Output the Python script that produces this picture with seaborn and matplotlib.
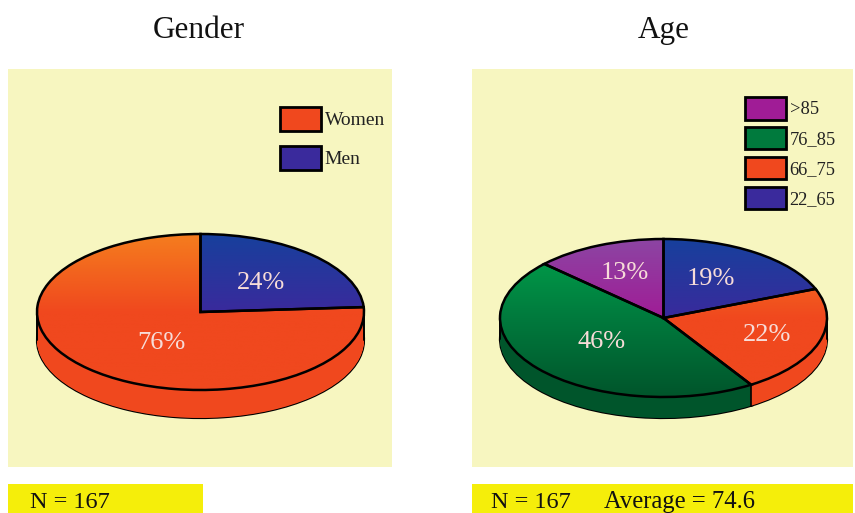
import numpy as np
import matplotlib
matplotlib.use('Agg')
import matplotlib.pyplot as plt
from matplotlib.patches import Patch, Rectangle
import seaborn as sns

# Pie data, in clockwise order from 12 o'clock
gender_values = [24, 76]
gender_names = ['Men', 'Women']
age_values = [19, 22, 46, 13]
age_names = ['22_65', '66_75', '76_85', '>85']

BLUE = ['#17409c', '#3a2a9c', '#3a2a9c']
ORANGE = ['#f57d1e', '#f0481e', '#f0481e']
GREEN = ['#00a34c', '#007a3d', '#00552b']
PURPLE = ['#8c45a3', '#a01c96', '#a01c96']
PANEL = '#f7f6c0'
BANNER = '#f5ee0a'

W, H = 855, 513
sns.set_theme(style='white')
plt.rcParams['font.family'] = ['Liberation Serif', 'DejaVu Serif']

fig = plt.figure(figsize=(W / 100, H / 100), dpi=100)
fig.patch.set_facecolor('white')


def px_text(x, y, s, **kw):
    # position in reference pixels
    return fig.text(x / W, 1 - y / H, s, **kw)


def draw_pie(box, cx, cy, rx, ry, depth, values, gradients, label_xy):
    left, top, right, bottom = box
    ax = fig.add_axes([left / W, 1 - bottom / H, (right - left) / W, (bottom - top) / H])
    d = depth / ry
    rim_colors = [g[-1] for g in gradients]

    # extruded side: bottom outline first, then a stack of slices
    ax.pie(values, colors=rim_colors, startangle=90, counterclock=False, center=(0, -d),
           wedgeprops=dict(edgecolor='black', linewidth=1.6))
    for off in np.linspace(d, 0, depth * 2):
        ax.pie(values, colors=rim_colors, startangle=90, counterclock=False, center=(0, -off),
               wedgeprops=dict(linewidth=0))

    # outer edge lines of the side, incl. seams on the front half
    ax.plot([-1, -1], [0, -d], color='black', lw=1.4, zorder=4)
    ax.plot([1, 1], [0, -d], color='black', lw=1.4, zorder=4)
    bounds = 90 - np.cumsum(values) * 3.6
    for b in bounds:
        if np.sin(np.radians(b)) < 0:
            x, y = np.cos(np.radians(b)), np.sin(np.radians(b))
            ax.plot([x, x], [y, y - d], color='black', lw=1.2, zorder=4)

    # top face with vertical colour gradient
    wedges, _ = ax.pie(values, colors=rim_colors, startangle=90, counterclock=False,
                       wedgeprops=dict(edgecolor='black', linewidth=1.8))
    ramp = np.linspace(0, 1, 256).reshape(-1, 1)
    for wedge, grad in zip(wedges, gradients):
        cmap = sns.blend_palette(grad, as_cmap=True)
        im = ax.imshow(ramp, cmap=cmap, extent=(-1, 1, -1, 1), origin='upper', aspect='auto', zorder=3)
        im.set_clip_path(wedge)
        wedge.set_facecolor('none')
        wedge.set_zorder(5)

    ax.set_aspect('auto')
    ax.set_xlim((left - cx) / rx, (right - cx) / rx)
    ax.set_ylim((cy - bottom) / ry, (cy - top) / ry)
    ax.set_frame_on(True)
    ax.set_facecolor(PANEL)
    for s in ax.spines.values():
        s.set_visible(False)
    ax.set_xticks([])
    ax.set_yticks([])

    for v, (x, y) in zip(values, label_xy):
        px_text(x, y, f'{v}%', fontsize=19, color='#f7dcd8', ha='center', va='center', zorder=10)
    return ax


ax1 = draw_pie((8, 69, 392, 467), 200.5, 312, 163.5, 78, 28, gender_values, [BLUE, ORANGE],
               [(261, 283), (161, 343)])
ax2 = draw_pie((472, 69, 853, 467), 663.5, 318, 163.5, 79, 21, age_values,
               [BLUE, ORANGE, GREEN, PURPLE],
               [(711, 279), (767, 335), (602, 342), (625, 273)])


def add_legend(ax, names, colors, x, y, spacing, size):
    handles = [Patch(facecolor=c, edgecolor='black', linewidth=2) for c in colors]
    ax.legend(handles, names, loc='upper left', bbox_to_anchor=(x / W, 1 - y / H),
              bbox_transform=fig.transFigure, frameon=False, fontsize=size, borderpad=0,
              borderaxespad=0, handlelength=41 / (size * 100 / 72), handleheight=1.5,
              handletextpad=0.2, labelspacing=spacing, labelcolor='#222222')


add_legend(ax1, gender_names[::-1], [ORANGE[1], BLUE[1]], 280, 107, 0.78, 14)
add_legend(ax2, age_names[::-1], [PURPLE[1], GREEN[1], ORANGE[1], BLUE[1]], 745, 97, 0.4, 13.3)

# titles
px_text(199, 30, 'Gender', fontsize=22.5, color='#111111', ha='center', va='center')
px_text(664, 31, 'Age', fontsize=22.5, color='#111111', ha='center', va='center')

# yellow boxes at the bottom
fig.add_artist(Rectangle((8 / W, 0), (203 - 8) / W, (H - 484) / H, transform=fig.transFigure,
                         facecolor=BANNER, edgecolor='none'))
fig.add_artist(Rectangle((472 / W, 0), (853 - 472) / W, (H - 484) / H, transform=fig.transFigure,
                         facecolor=BANNER, edgecolor='none'))
px_text(30, 508, 'N = 167', fontsize=17.5, color='#111111', va='baseline')
px_text(491, 508, 'N = 167', fontsize=17.5, color='#111111', va='baseline')
px_text(604, 508, 'Average = 74.6', fontsize=17.7, color='#111111', va='baseline')

fig.savefig('out.png', dpi=100)
